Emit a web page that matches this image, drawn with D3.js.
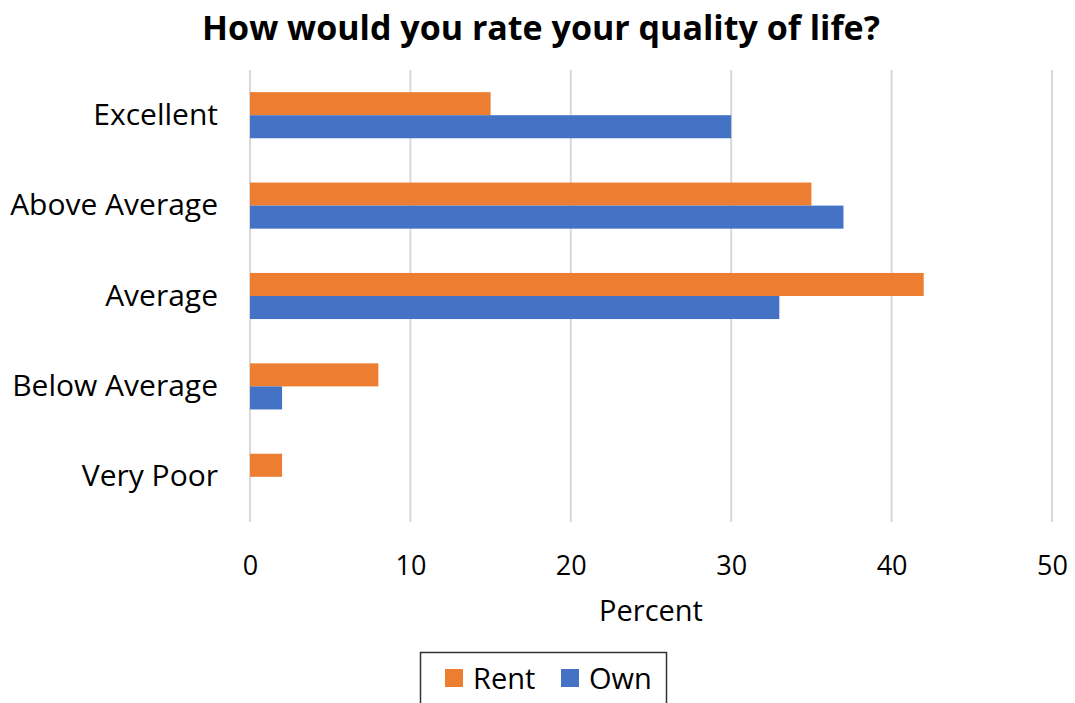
<!DOCTYPE html>
<html>
<head>
<style>
  body { margin: 0; background: #fff; }
  svg { font-family: "Open Sans", "Noto Sans", sans-serif; }
</style>
</head>
<body>
<div id="chart"></div>
<script src="https://cdnjs.cloudflare.com/ajax/libs/d3/7.8.5/d3.min.js"></script>
<script>
var categories = ["Excellent", "Above Average", "Average", "Below Average", "Very Poor"];
var rentValues = [15, 35, 42, 8, 2];
var ownValues = [30, 37, 33, 2, 0];
var seriesNames = ["Rent", "Own"];
var seriesColors = ["#ED7D31", "#4472C4"];
var xTicks = [0, 10, 20, 30, 40, 50];

(function() {
  var width = 1075, height = 703;
  var margin = {top: 70, left: 250, right: 23, bottom: 181};

  var svg = d3.select("#chart").append("svg")
    .attr("width", width)
    .attr("height", height);

  var x = d3.scaleLinear().domain([0, 50]).range([margin.left, width - margin.right]);
  var y = d3.scaleBand().domain(categories).range([margin.top, height - margin.bottom]).paddingInner(0.49).paddingOuter(0.245);
  var sub = d3.scaleBand().domain(seriesNames).range([0, y.bandwidth()]);

  var rows = categories.map(function(c, i) {
    return {cat: c, vals: [{s: "Rent", v: rentValues[i]}, {s: "Own", v: ownValues[i]}]};
  });

  // gridlines
  svg.append("g")
    .selectAll("line")
    .data(xTicks)
    .enter().append("line")
    .attr("x1", function(d) { return x(d); })
    .attr("x2", function(d) { return x(d); })
    .attr("y1", margin.top)
    .attr("y2", height - margin.bottom)
    .attr("stroke", "#d9d9d9")
    .attr("stroke-width", 2);

  // bars
  svg.append("g")
    .selectAll("g")
    .data(rows)
    .enter().append("g")
    .attr("transform", function(d) { return "translate(0," + y(d.cat) + ")"; })
    .selectAll("rect")
    .data(function(d) { return d.vals.filter(function(e) { return e.v > 0; }); })
    .enter().append("rect")
    .attr("x", x(0))
    .attr("y", function(d) { return sub(d.s); })
    .attr("width", function(d) { return x(d.v) - x(0); })
    .attr("height", sub.bandwidth())
    .attr("fill", function(d) { return seriesColors[seriesNames.indexOf(d.s)]; });

  // category labels
  var yAxis = svg.append("g")
    .attr("transform", "translate(" + (margin.left - 32) + ",0)")
    .call(d3.axisLeft(y).tickSize(0).tickPadding(0));
  yAxis.select(".domain").remove();
  yAxis.selectAll("text")
    .attr("font-size", 30)
    .attr("fill", "#000")
    .attr("font-family", "'Open Sans', sans-serif");

  // x axis labels
  var xAxis = svg.append("g")
    .attr("transform", "translate(0," + (height - margin.bottom) + ")")
    .call(d3.axisBottom(x).tickValues(xTicks).tickSize(0).tickPadding(34));
  xAxis.select(".domain").remove();
  xAxis.selectAll("text")
    .attr("font-size", 27)
    .attr("fill", "#000")
    .attr("font-family", "'Open Sans', sans-serif");

  svg.append("text")
    .attr("x", x(25))
    .attr("y", 621)
    .attr("text-anchor", "middle")
    .attr("font-size", 29)
    .text("Percent");

  svg.append("text")
    .attr("x", 541)
    .attr("y", 40)
    .attr("text-anchor", "middle")
    .attr("font-size", 34)
    .attr("font-weight", "bold")
    .text("How would you rate your quality of life?");

  // legend
  var legend = svg.append("g");
  legend.append("rect")
    .attr("x", 420.5).attr("y", 652.5)
    .attr("width", 246).attr("height", 60)
    .attr("fill", "none")
    .attr("stroke", "#333")
    .attr("stroke-width", 1.5);
  var lx = [445, 561];
  seriesNames.forEach(function(s, i) {
    legend.append("rect")
      .attr("x", lx[i]).attr("y", 669)
      .attr("width", 18).attr("height", 18)
      .attr("fill", seriesColors[i]);
    legend.append("text")
      .attr("x", lx[i] + 28).attr("y", 689)
      .attr("font-size", 29)
      .text(s);
  });
})();
</script>
</body>
</html>
